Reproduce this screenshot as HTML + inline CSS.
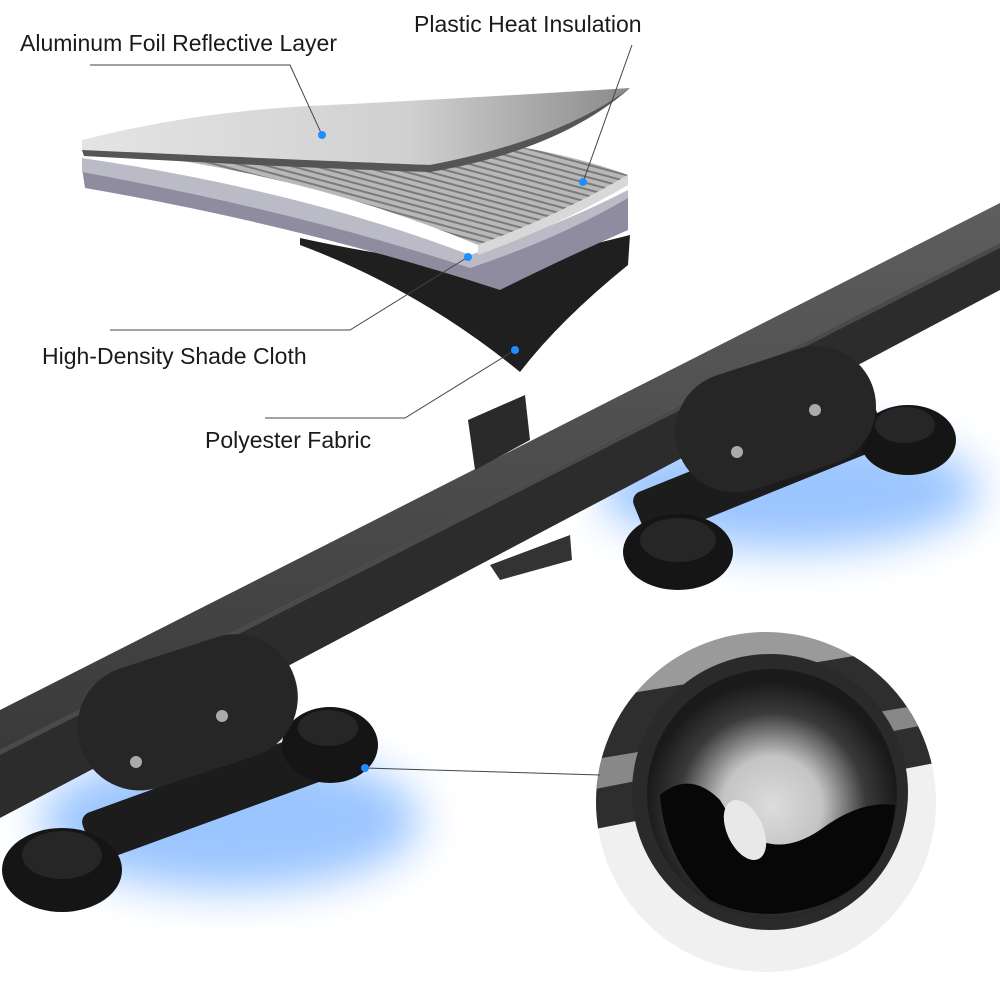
<!DOCTYPE html>
<html><head><meta charset="utf-8"><style>
html,body{margin:0;padding:0;background:#fff;}
svg{display:block}
text{font-family:"Liberation Sans",sans-serif;fill:#1a1a1a}
</style></head><body>
<svg width="1000" height="1000" viewBox="0 0 1000 1000" xmlns="http://www.w3.org/2000/svg">
<defs>
<filter id="blur" x="-50%" y="-50%" width="200%" height="200%"><feGaussianBlur stdDeviation="22"/></filter>
<linearGradient id="railTop" x1="0" y1="0" x2="0" y2="1"><stop offset="0" stop-color="#5e5e5e"/><stop offset="1" stop-color="#3a3a3a"/></linearGradient>
<linearGradient id="foil" x1="0" y1="0" x2="1" y2="0"><stop offset="0" stop-color="#e4e4e4"/><stop offset=".6" stop-color="#d0d0d0"/><stop offset="1" stop-color="#8a8a8a"/></linearGradient>
<linearGradient id="plast" x1="0" y1="0" x2="1" y2="1"><stop offset="0" stop-color="#9a9a9a"/><stop offset="1" stop-color="#c8c8c8"/></linearGradient>
<radialGradient id="cup" cx=".5" cy=".55" r=".5"><stop offset="0" stop-color="#dcdcdc"/><stop offset=".4" stop-color="#c4c4c4"/><stop offset=".75" stop-color="#3a3a3a"/><stop offset="1" stop-color="#1a1a1a"/></radialGradient>
<pattern id="stripe" width="6" height="6" patternUnits="userSpaceOnUse" patternTransform="rotate(15)"><rect width="6" height="6" fill="#b8b8b8"/><rect width="6" height="2" fill="#7a7a7a"/></pattern>
<clipPath id="circ"><circle cx="766" cy="802" r="170"/></clipPath>
</defs>

<!-- blue glows -->
<ellipse cx="230" cy="820" rx="190" ry="70" fill="#4a96ff" opacity=".55" filter="url(#blur)"/>
<ellipse cx="790" cy="490" rx="190" ry="60" fill="#4a96ff" opacity=".55" filter="url(#blur)"/>

<!-- rail -->
<polygon points="0,710 1000,203 1000,243 0,750" fill="url(#railTop)"/>
<polygon points="0,750 1000,243 1000,290 0,818" fill="#2c2c2c"/>
<polygon points="0,750 1000,243 1000,248 0,755" fill="#4a4a4a"/>

<!-- small clip on rail -->
<polygon points="468,420 525,395 530,440 475,470" fill="#2a2a2a"/>
<polygon points="490,565 570,535 572,560 500,580" fill="#333"/>

<!-- right mount -->
<rect x="630" y="445" width="260" height="50" rx="10" fill="#1c1c1c" transform="rotate(-22 760 470)"/>
<ellipse cx="678" cy="552" rx="55" ry="38" fill="#151515"/>
<ellipse cx="678" cy="540" rx="38" ry="22" fill="#262626"/>
<ellipse cx="908" cy="440" rx="48" ry="35" fill="#151515"/>
<ellipse cx="905" cy="425" rx="30" ry="18" fill="#262626"/>
<rect x="670" y="360" width="205" height="120" rx="60" fill="#262626" transform="rotate(-18 772 410)"/>
<circle cx="815" cy="410" r="6" fill="#aaa"/><circle cx="737" cy="452" r="6" fill="#aaa"/>

<!-- left mount -->
<rect x="80" y="770" width="260" height="50" rx="10" fill="#1c1c1c" transform="rotate(-20 210 795)"/>
<ellipse cx="62" cy="870" rx="60" ry="42" fill="#151515"/>
<ellipse cx="62" cy="855" rx="40" ry="24" fill="#262626"/>
<ellipse cx="330" cy="745" rx="48" ry="38" fill="#151515"/>
<ellipse cx="328" cy="728" rx="30" ry="18" fill="#262626"/>
<rect x="75" y="650" width="225" height="125" rx="62" fill="#262626" transform="rotate(-18 187 712)"/>
<circle cx="222" cy="716" r="6" fill="#aaa"/><circle cx="136" cy="762" r="6" fill="#aaa"/>

<!-- zoom circle -->
<circle cx="766" cy="802" r="170" fill="#f0f0f0"/>
<g clip-path="url(#circ)">
<polygon points="590,640 950,570 950,700 590,760" fill="#9a9a9a"/>
<polygon points="590,700 950,640 950,760 590,830" fill="#2e2e2e"/>
<polygon points="590,760 950,700 950,720 590,790" fill="#888"/>
<circle cx="770" cy="792" r="138" fill="#2a2a2a"/>
<circle cx="772" cy="794" r="125" fill="url(#cup)"/>
<path d="M660,795 Q690,770 720,800 Q760,870 820,830 Q860,800 895,805 Q890,880 820,905 Q760,925 710,900 Q665,860 660,795 Z" fill="#070707"/>
<ellipse cx="745" cy="830" rx="18" ry="32" fill="#e8e8e8" transform="rotate(-25 745 830)"/>
</g>

<!-- layers -->
<path d="M300,238 Q470,275 535,258 Q590,245 630,235 L628,265 Q560,320 520,372 Q420,290 300,245 Z" fill="#1f1f1f"/>
<path d="M82,168 Q300,205 470,262 Q560,238 628,195 L628,230 Q560,260 500,290 Q300,225 85,188 Z" fill="#8e8c9e"/>
<path d="M82,158 Q300,190 470,255 Q560,225 628,190 L628,198 Q560,238 470,268 Q300,212 82,172 Z" fill="#bbbbc8"/>
<path d="M85,148 Q300,170 478,245 Q560,215 628,175 Q560,150 470,140 Q300,150 85,148 Z" fill="url(#stripe)"/>
<path d="M478,245 Q560,215 628,175 L628,185 Q560,225 478,255 Z" fill="#d8d8d8"/>
<path d="M82,140 Q200,110 330,105 Q470,98 630,88 Q570,140 430,165 Q300,160 82,152 Z" fill="url(#foil)"/>
<path d="M82,150 Q300,160 430,165 Q560,140 630,88 Q560,150 430,172 Q300,168 84,156 Z" fill="#555"/>

<!-- leader lines -->
<g stroke="#444" stroke-width="1" fill="none">
<polyline points="90,65 290,65 322,135"/>
<polyline points="632,45 583,182"/>
<polyline points="110,330 350,330 468,257"/>
<polyline points="265,418 405,418 515,350"/>
<line x1="365" y1="768" x2="600" y2="775"/>
</g>
<g fill="#1e8fff">
<circle cx="322" cy="135" r="4"/><circle cx="583" cy="182" r="4"/>
<circle cx="468" cy="257" r="4"/><circle cx="515" cy="350" r="4"/>
<circle cx="365" cy="768" r="4"/>
</g>

<!-- labels -->
<text x="20" y="51" font-size="23">Aluminum Foil Reflective Layer</text>
<text x="414" y="32" font-size="23">Plastic Heat Insulation</text>
<text x="42" y="364" font-size="23">High-Density Shade Cloth</text>
<text x="205" y="448" font-size="23">Polyester Fabric</text>
</svg>
</body></html>
